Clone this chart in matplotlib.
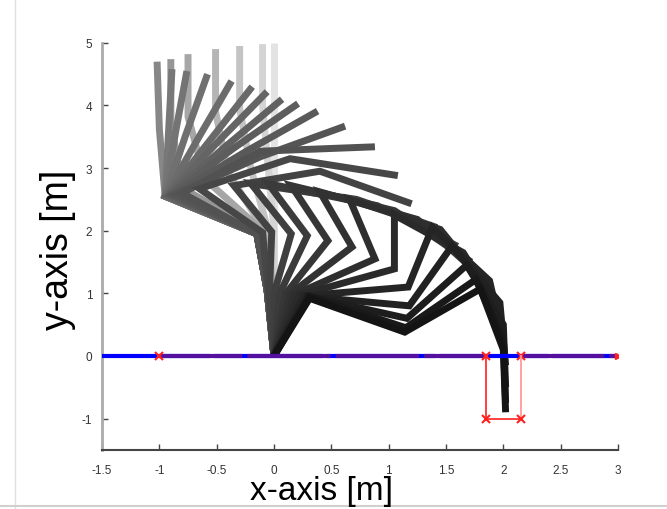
import matplotlib
matplotlib.use('Agg')
import matplotlib.pyplot as plt
import numpy as np

plt.rcParams['font.family'] = ['Liberation Sans', 'DejaVu Sans']
plt.rcParams['axes.unicode_minus'] = False

# joint positions of the 5-link chain for every snapshot, base -> tip
chain_x = [
    [0, 0.00, 0.00, 0.00, 0.00, 0.00],
    [0, 0.00, 0.00, -0.05, -0.10, -0.10],
    [0, 0.00, -0.05, -0.20, -0.30, -0.30],
    [0, 0.00, -0.08, -0.40, -0.51, -0.51],
    [0, -0.02, -0.10, -0.60, -0.75, -0.75],
    [0, -0.04, -0.13, -0.80, -0.90, -0.90],
    [0, -0.06, -0.15, -0.95, -1.00, -1.02],
    [0, -0.06, -0.15, -0.95, -0.92, -0.89],
    [0, -0.06, -0.15, -0.95, -0.86, -0.76],
    [0, -0.06, -0.15, -0.95, -0.77, -0.58],
    [0, -0.06, -0.15, -0.95, -0.66, -0.37],
    [0, -0.06, -0.15, -0.94, -0.56, -0.19],
    [0, -0.06, -0.15, -0.93, -0.50, -0.06],
    [0, -0.06, -0.15, -0.92, -0.42, 0.07],
    [0, -0.06, -0.15, -0.90, -0.35, 0.21],
    [0, -0.06, -0.15, -0.88, -0.25, 0.38],
    [0, -0.06, -0.15, -0.85, -0.12, 0.62],
    [0, -0.06, -0.15, -0.80, -0.12, 0.88],
    [0, -0.05, -0.10, -0.65, 0.14, 1.08],
    [0, -0.04, -0.02, -0.35, 0.40, 1.20],
    [0, 0.00, 0.15, -0.20, 0.72, 1.42],
    [0, 0.05, 0.29, -0.05, 0.90, 1.60],
    [0, 0.10, 0.47, 0.15, 1.05, 1.72],
    [0, 0.14, 0.68, 0.40, 1.25, 1.82],
    [0, 0.18, 0.88, 0.66, 1.45, 1.90],
    [0, 0.22, 1.05, 1.05, 1.65, 1.97],
    [0, 0.26, 1.17, 1.38, 1.88, 2.00],
    [0, 0.29, 1.18, 1.55, 1.97, 2.02],
    [0, 0.30, 1.16, 1.68, 2.00, 2.02],
    [0, 0.31, 1.15, 1.76, 2.00, 2.02],
    [0, 0.31, 1.14, 1.80, 2.00, 2.02],
]
chain_y = [
    [0, 1.00, 2.00, 3.00, 4.00, 5.00],
    [0, 1.00, 2.00, 3.00, 4.00, 4.98],
    [0, 1.00, 2.00, 2.98, 3.95, 4.95],
    [0, 1.00, 2.00, 2.92, 3.90, 4.90],
    [0, 1.00, 2.00, 2.82, 3.82, 4.82],
    [0, 1.03, 1.98, 2.68, 3.74, 4.74],
    [0, 1.05, 1.95, 2.55, 3.62, 4.70],
    [0, 1.05, 1.95, 2.55, 3.58, 4.58],
    [0, 1.05, 1.95, 2.55, 3.56, 4.55],
    [0, 1.05, 1.95, 2.55, 3.53, 4.50],
    [0, 1.05, 1.95, 2.55, 3.48, 4.39],
    [0, 1.05, 1.95, 2.56, 3.44, 4.30],
    [0, 1.05, 1.95, 2.56, 3.40, 4.22],
    [0, 1.05, 1.95, 2.56, 3.35, 4.10],
    [0, 1.05, 1.95, 2.57, 3.32, 4.03],
    [0, 1.05, 1.95, 2.57, 3.26, 3.91],
    [0, 1.05, 1.95, 2.58, 3.18, 3.67],
    [0, 1.05, 1.95, 2.60, 3.27, 3.34],
    [0, 1.03, 1.97, 2.67, 3.15, 2.88],
    [0, 1.00, 1.98, 2.72, 2.95, 2.43],
    [0, 1.00, 1.95, 2.75, 2.50, 2.05],
    [0, 1.00, 1.92, 2.75, 2.40, 1.75],
    [0, 0.99, 1.84, 2.72, 2.32, 1.50],
    [0, 0.99, 1.74, 2.62, 2.18, 1.25],
    [0, 0.98, 1.55, 2.50, 2.02, 1.00],
    [0, 0.97, 1.39, 2.25, 1.65, 0.70],
    [0, 0.96, 1.10, 2.05, 1.20, 0.25],
    [0, 0.95, 0.80, 1.75, 0.85, -0.15],
    [0, 0.95, 0.60, 1.45, 0.50, -0.50],
    [0, 0.95, 0.45, 1.22, 0.25, -0.75],
    [0, 0.92, 0.38, 1.07, 0.10, -0.90],
]

# ground rail and the support box at the tip
ground_x = [-1.5, 3.0]
ground_y = [0.0, 0.0]
rail_marks_x = [-1.0, 1.85, 2.15]
box_x = [1.85, 1.85, 2.15, 2.15]
box_y = [0.0, -1.0, -1.0, 0.0]

x_ticks = [-1.5, -1, -0.5, 0, 0.5, 1, 1.5, 2, 2.5, 3]
x_labels = ['-1.5', '-1', '-0.5', '0', '0.5', '1', '1.5', '2', '2.5', '3']
y_ticks = [-1, 0, 1, 2, 3, 4, 5]

fig = plt.figure(figsize=(6.67, 5.10), dpi=100)
ax = fig.add_axes([0.153, 0.116, 0.7735, 0.798])

# snapshots get darker with time
n = len(chain_x)
greys = np.concatenate([np.linspace(0.89, 0.53, 7),
                        np.linspace(0.47, 0.32, 11),
                        np.linspace(0.28, 0.08, n - 18)])
for k in range(n):
    g = greys[k]
    ax.plot(chain_x[k], chain_y[k], color=(g, g, g), lw=5,
            solid_joinstyle='miter', solid_capstyle='butt', zorder=3)

# ground line: blue underneath, red overlay on the rail part
ax.plot(ground_x, ground_y, color='#0000ff', lw=3, zorder=4,
        dashes=(26, 1))
ax.plot([-1.0, 1.85], [0, 0], color='#5510a0', lw=3, zorder=5, dashes=(20, 1.2))
ax.plot([2.15, 3.0], [0, 0], color='#5510a0', lw=3, zorder=5, dashes=(20, 1.2))
ax.plot(rail_marks_x, [0, 0, 0], 'x', color='#ff2020', ms=6, mew=1.5, zorder=6)
ax.plot([3.0], [0.0], '>', color='#ff2020', ms=5, zorder=6)

# support box
ax.plot(box_x[:3], box_y[:3], color='#ff3030', lw=1.3, zorder=6)
ax.plot(box_x[2:], box_y[2:], color='#ff9a9a', lw=1.3, zorder=6)
ax.plot(box_x[1:3], box_y[1:3], 'x', color='#ff2020', ms=6, mew=1.5, zorder=6)

ax.set_xlim(-1.5, 3)
ax.set_ylim(-1.5, 5)
ax.set_xticks(x_ticks)
ax.set_xticklabels(x_labels)
ax.set_yticks(y_ticks)
ax.tick_params(direction='in', length=4, width=1, color='#444444',
               labelsize=8.5, labelcolor='#333333')
ax.tick_params(axis='x', pad=10)
ax.tick_params(axis='y', pad=7)
ax.spines['top'].set_visible(False)
ax.spines['right'].set_visible(False)
ax.spines['left'].set_color('#aaaaaa')
ax.spines['left'].set_linewidth(2)
ax.spines['bottom'].set_color('#444444')
ax.spines['bottom'].set_linewidth(1.5)

fig.text(0.482, 0.02, 'x-axis [m]', ha='center', va='baseline', fontsize=24)
fig.text(0.087, 0.51, 'y-axis [m]', ha='center', va='center', rotation=90,
         fontsize=27)

# screenshot border
fig.add_artist(plt.Line2D([0.022, 0.022], [0, 1], color='#e0e0e0', lw=1))
fig.add_artist(plt.Line2D([0, 1], [0.006, 0.006], color='#d0d0d0', lw=1.5))

fig.savefig('out.png', dpi=100)
